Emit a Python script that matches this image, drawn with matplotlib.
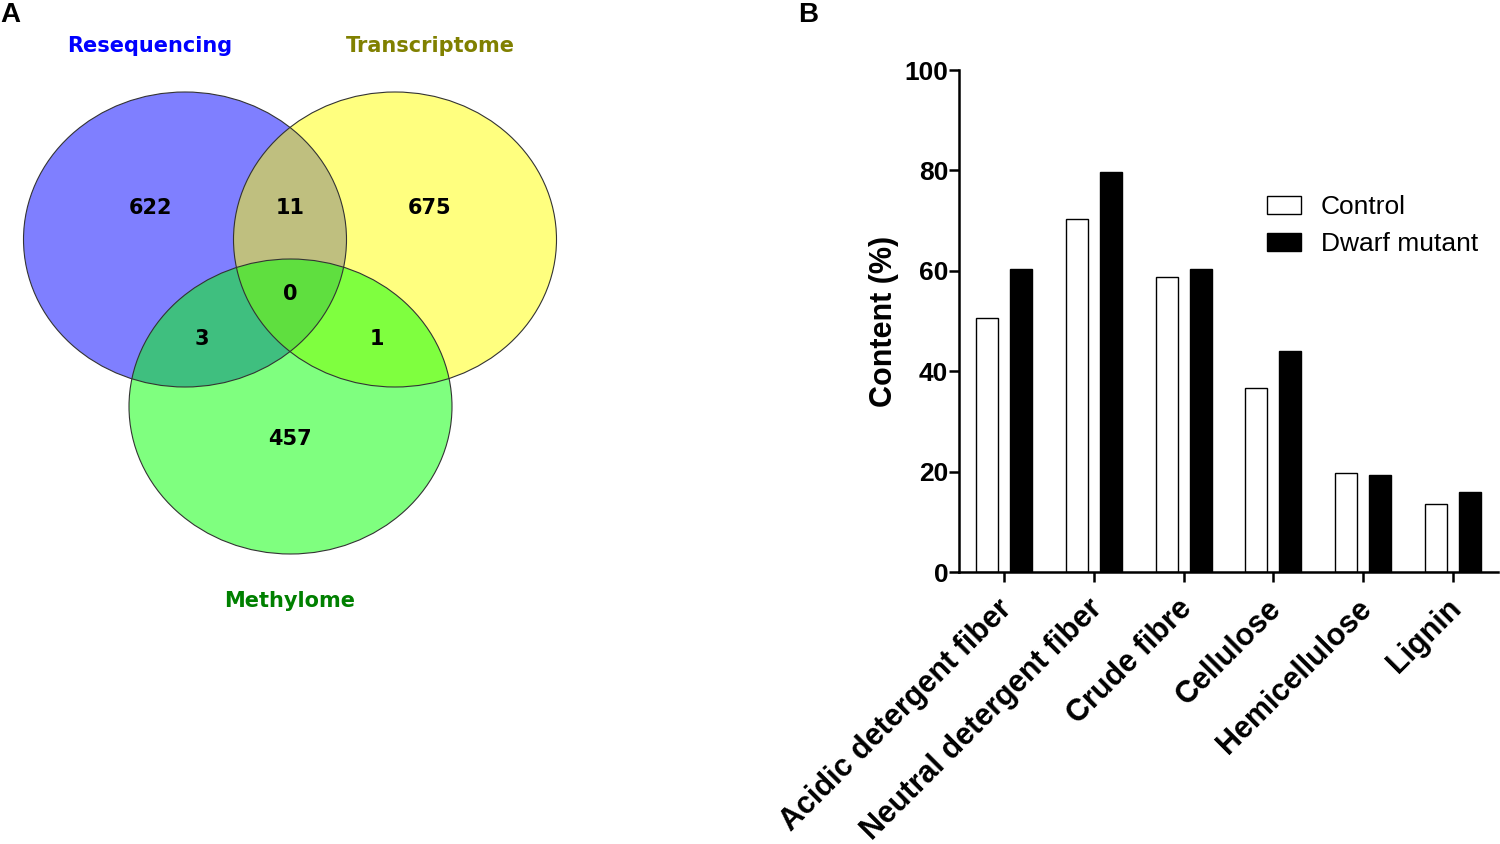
import matplotlib
matplotlib.use("Agg")
import matplotlib.pyplot as plt
import matplotlib.transforms as mtransforms
from matplotlib.patches import Ellipse, Patch
import numpy as np

# ---------------- data ----------------
set_names = ["Resequencing", "Transcriptome", "Methylome"]
set_colors = ["#0000FF", "#FFFF00", "#00FF00"]
label_colors = ["#0000FF", "#808000", "#008000"]
# region counts: only R, only T, R&T, R&M, T&M, all, only M
venn_counts = {"R": 622, "T": 675, "RT": 11, "RM": 3, "TM": 1, "RTM": 0, "M": 457}

categories = ["Acidic detergent fiber", "Neutral detergent fiber", "Crude fibre",
              "Cellulose", "Hemicellulose", "Lignin"]
control = [50.5, 70.3, 58.8, 36.7, 19.8, 13.6]
dwarf = [60.4, 79.7, 60.4, 44.1, 19.3, 16.0]
series_names = ["Control", "Dwarf mutant"]
yticks = [0, 20, 40, 60, 80, 100]

W, H = 1500, 844
fig = plt.figure(figsize=(15, 8.44), dpi=100)

# ---------------- Panel A: Venn ----------------
ax0 = fig.add_axes([0, 0, 600 / W, 1])
ax0.set_xlim(0, 600)
ax0.set_ylim(H, 0)
ax0.axis("off")

centers = [(185, 239.5), (395, 239.5), (290.5, 406.5)]
ew, eh = 323, 295
for (cx, cy), col in zip(centers, set_colors):
    ax0.add_patch(Ellipse((cx, cy), ew, eh, facecolor=col, alpha=0.5, edgecolor="none"))
for (cx, cy) in centers:
    ax0.add_patch(Ellipse((cx, cy), ew, eh, facecolor="none", edgecolor="#333333", lw=0.8))

vfont = dict(family="DejaVu Sans", fontweight="bold")
title_pos = [(150, 46), (430, 46), (290, 601)]
for name, col, (x, y) in zip(set_names, label_colors, title_pos):
    ax0.text(x, y, name, color=col, fontsize=15, ha="center", va="center", **vfont)

count_pos = {"R": (150, 208), "RT": (290, 208), "T": (430, 208), "RTM": (290, 294),
             "RM": (202, 339), "TM": (377, 339), "M": (290, 439)}
for key, (x, y) in count_pos.items():
    ax0.text(x, y, str(venn_counts[key]), color="black", fontsize=15,
             ha="center", va="center", **vfont)

# ---------------- Panel B: bars ----------------
bfont = "Liberation Sans"
ax1 = fig.add_axes([959 / W, 1 - 572 / H, (1498 - 959) / W, (572 - 70) / H])
x = np.arange(len(categories))
bw = 0.245
off = 0.19
ax1.bar(x - off, control, bw, facecolor="white", edgecolor="black", lw=1.0, label=series_names[0])
ax1.bar(x + off, dwarf, bw, facecolor="black", edgecolor="black", lw=1.0, label=series_names[1])
ax1.set_xlim(-0.5, len(categories) - 0.5)
ax1.set_ylim(0, 100)
ax1.set_yticks(yticks)
ax1.set_xticks(x)
for s in ["top", "right"]:
    ax1.spines[s].set_visible(False)
for s in ["left", "bottom"]:
    ax1.spines[s].set_linewidth(1.8)
ax1.tick_params(axis="both", width=1.8, length=7, direction="out")
ax1.tick_params(axis="y", pad=0.8)
ax1.tick_params(axis="x", pad=6.5)
ax1.set_yticklabels([str(v) for v in yticks], fontsize=19, fontweight="bold", family=bfont)
ax1.set_xticklabels(categories, fontsize=22, fontweight="bold", family=bfont,
                    rotation=45, ha="right", rotation_mode="anchor")
shift = mtransforms.ScaledTranslation(-7 / 100, -3 / 100, fig.dpi_scale_trans)
for lbl in ax1.get_xticklabels():
    lbl.set_transform(lbl.get_transform() + shift)
ax1.set_ylabel("Content (%)", fontsize=22, fontweight="bold", family=bfont, labelpad=4)

handles = [Patch(facecolor="white", edgecolor="black", lw=1.0),
           Patch(facecolor="black", edgecolor="black", lw=1.0)]
leg = ax1.legend(handles, series_names, loc="upper left",
                 bbox_to_anchor=(1267 / W, 1 - 195 / H), bbox_transform=fig.transFigure,
                 frameon=False, borderpad=0, borderaxespad=0,
                 handlelength=1.3, handleheight=0.68, handletextpad=0.75,
                 labelspacing=0.5, prop={"family": bfont, "size": 19})

# panel letters
fig.text(10 / W, 1 - 15 / H, "A", fontsize=20, fontweight="bold", family=bfont, ha="center", va="center")
fig.text(808 / W, 1 - 15 / H, "B", fontsize=20, fontweight="bold", family=bfont, ha="center", va="center")

fig.savefig("out.png", dpi=100)
